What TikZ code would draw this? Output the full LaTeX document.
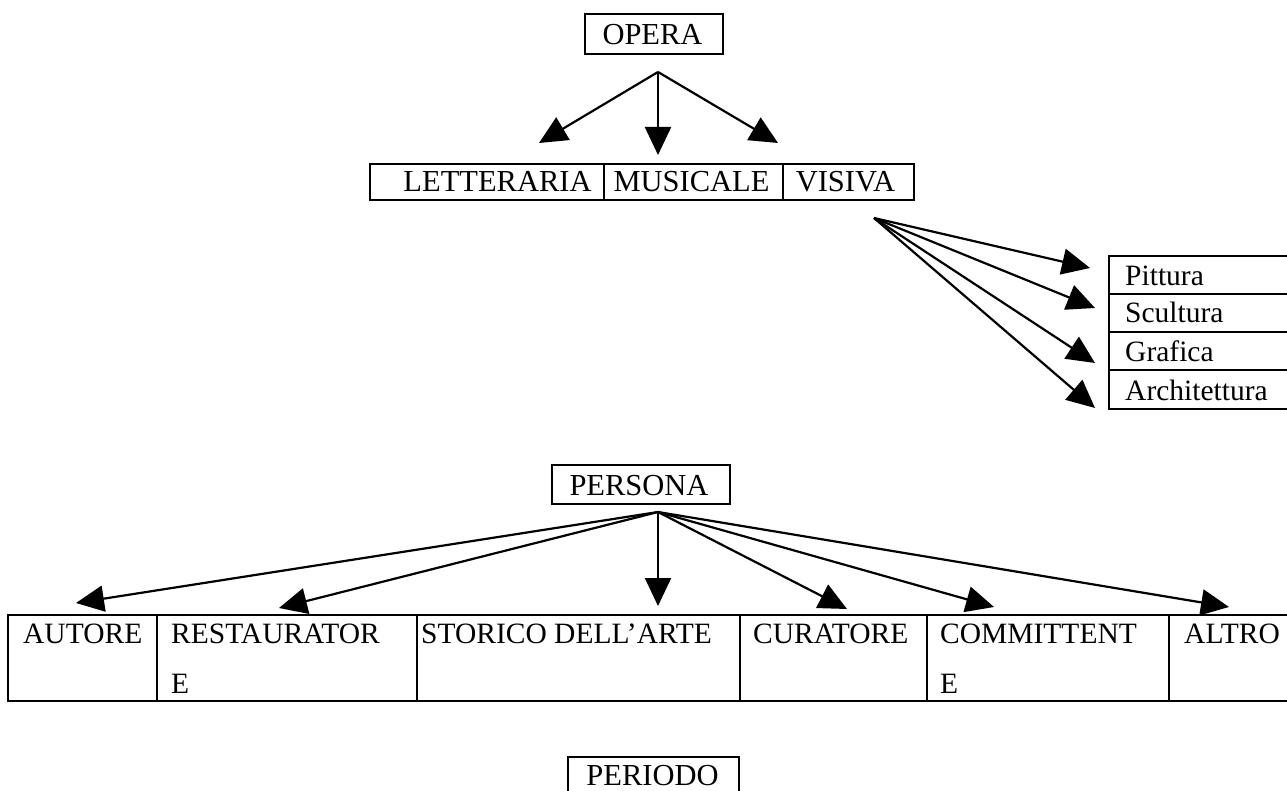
\documentclass[tikz,border=0pt]{standalone}
\usepackage{fontspec}
\setmainfont{Liberation Serif}
\usetikzlibrary{arrows.meta}
\begin{document}
\begin{tikzpicture}[x=1pt,y=-1pt,
  box/.style={draw, line width=2.2pt, inner sep=0pt, anchor=north west},
  lbl/.style={inner sep=0pt, anchor=base west, font=\fontsize{29.5}{34}\selectfont},
  clbl/.style={inner sep=0pt, anchor=base, font=\fontsize{30.5}{34}\selectfont},
  arr/.style={line width=2.2pt, -{Triangle[length=28pt,width=26pt]}}]
\clip (0,0) rectangle (1287,791);
\fill[white] (0,0) rectangle (1287,791);

% OPERA
\node[box, minimum width=138pt, minimum height=40pt] (opera) at (584,13) {};
\node[clbl] (operaT) at (652.5,45) {OPERA};

% row 1
\node[box, minimum width=234pt, minimum height=36pt] (letter) at (369,163) {};
\node[box, minimum width=179pt, minimum height=36pt] (music) at (603,163) {};
\node[box, minimum width=131pt, minimum height=36pt] (visiva) at (782,163) {};
\node[clbl] (letterT) at (497.5,192) {LETTERARIA};
\node[clbl] (musicT) at (691.5,192) {MUSICALE};
\node[clbl] (visivaT) at (845.5,192) {VISIVA};

% list
\node[box, minimum width=200pt, minimum height=38pt] (pitt) at (1108,255) {};
\node[box, minimum width=200pt, minimum height=38pt] (scul) at (1108,293) {};
\node[box, minimum width=200pt, minimum height=38pt] (graf) at (1108,331) {};
\node[box, minimum width=200pt, minimum height=39pt] (arch) at (1108,369) {};
\node[lbl] (pittT) at (1125,286) {Pittura};
\node[lbl] (sculT) at (1125,323) {Scultura};
\node[lbl] (grafT) at (1125,362) {Grafica};
\node[lbl] (archT) at (1125,400) {Architettura};

% PERSONA
\node[box, minimum width=178pt, minimum height=39pt] (persona) at (551,464) {};
\node[clbl] (personaT) at (639,495) {PERSONA};

% table
\node[box, minimum width=149pt, minimum height=86pt] (autore) at (7,614) {};
\node[box, minimum width=260pt, minimum height=86pt] (rest) at (156,614) {};
\node[box, minimum width=323pt, minimum height=86pt] (stor) at (416,614) {};
\node[box, minimum width=187pt, minimum height=86pt] (cura) at (739,614) {};
\node[box, minimum width=242pt, minimum height=86pt] (comm) at (926,614) {};
\node[box, minimum width=140pt, minimum height=86pt] (altro) at (1168,614) {};
\node[lbl] (autoreT) at (23,643) {AUTORE};
\node[lbl] (restT) at (171,643) {RESTAURATOR};
\node[lbl] (restE) at (171,693) {E};
\node[lbl] (storT) at (421,643) {STORICO DELL’ARTE};
\node[lbl] (curaT) at (753,643) {CURATORE};
\node[lbl] (commT) at (940,643) {COMMITTENT};
\node[lbl] (commE) at (940,693) {E};
\node[lbl] (altroT) at (1184,643) {ALTRO};

% PERIODO
\node[box, minimum width=171pt, minimum height=45pt] (periodo) at (567,756) {};
\node[clbl] (periodoT) at (652.5,785) {PERIODO};

% arrow end points
\coordinate (oO) at (658,72);
\coordinate (tL) at (539,143);
\coordinate (tM) at (658,155);
\coordinate (tV) at (778,143);

\coordinate (oV) at (874,218);
\coordinate (tP) at (1090,268);
\coordinate (tS) at (1095,308);
\coordinate (tG) at (1095,363);
\coordinate (tA) at (1095,408);

\coordinate (oP) at (658,512);
\coordinate (tAu) at (76,603);
\coordinate (tRe) at (279,608);
\coordinate (tSt) at (658,606);
\coordinate (tCu) at (847,609);
\coordinate (tCo) at (994,607);
\coordinate (tAl) at (1229,607);

\draw[arr] (oO) -- (tL);
\draw[arr] (oO) -- (tM);
\draw[arr] (oO) -- (tV);

\draw[arr] (oV) -- (tP);
\draw[arr] (oV) -- (tS);
\draw[arr] (oV) -- (tG);
\draw[arr] (oV) -- (tA);

\draw[arr] (oP) -- (tAu);
\draw[arr] (oP) -- (tRe);
\draw[arr] (oP) -- (tSt);
\draw[arr] (oP) -- (tCu);
\draw[arr] (oP) -- (tCo);
\draw[arr] (oP) -- (tAl);
\end{tikzpicture}
\end{document}
